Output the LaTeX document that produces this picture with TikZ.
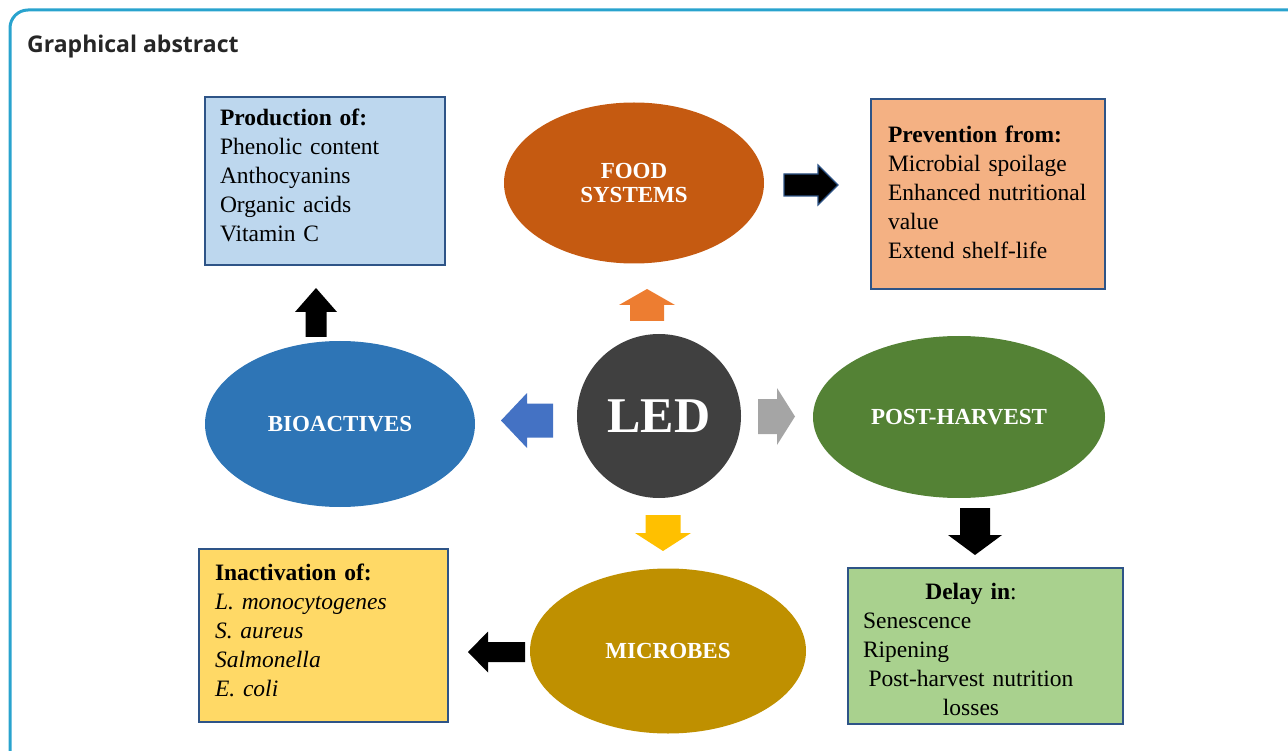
\documentclass[tikz,border=0pt]{standalone}
\usepackage{fontspec}
\setmainfont{Liberation Serif}
\newfontfamily\titlefont{Open Sans}
\usetikzlibrary{shapes.geometric,positioning}

\definecolor{framecol}{HTML}{29A3CE}
\definecolor{boxline}{HTML}{2E5487}
\definecolor{prodfill}{HTML}{BDD7EE}
\definecolor{prevfill}{HTML}{F4B183}
\definecolor{delayfill}{HTML}{A9D18E}
\definecolor{inactfill}{HTML}{FFD966}
\definecolor{foodcol}{HTML}{C55A11}
\definecolor{biocol}{HTML}{2E75B6}
\definecolor{postcol}{HTML}{548235}
\definecolor{microcol}{HTML}{BF9000}
\definecolor{ledcol}{HTML}{404040}
\definecolor{orangearr}{HTML}{ED7D31}
\definecolor{bluearr}{HTML}{4472C4}
\definecolor{grayarr}{HTML}{A5A5A5}
\definecolor{yellowarr}{HTML}{FFC000}

\tikzset{
  % block arrow pointing along local x: {length}{shaft}{head width}{head length}
  pics/blockarrow/.style n args={4}{code={
    \path[pic actions] (0,-#2/2) -- (#1-#4,-#2/2) -- (#1-#4,-#3/2) -- (#1,0)
      -- (#1-#4,#3/2) -- (#1-#4,#2/2) -- (0,#2/2) -- cycle;
  }},
  infobox/.style={draw=boxline, line width=2pt, anchor=north west, inner sep=0pt},
  boxtext/.style={align=left, inner sep=0pt, font=\fontsize{23.5}{29}\selectfont},
  bubble/.style={ellipse, inner sep=0pt, text=white, align=center,
    font=\fontsize{23}{24}\selectfont\bfseries},
}

\begin{document}
\begin{tikzpicture}[x=1pt,y=-1pt]
    \useasboundingbox (0,0) rectangle (1288,751);
    % frame and title
    \draw[framecol, line width=3pt, rounded corners=18pt] (10,751) -- (10,10) -- (1288,10);
    \node[anchor=base west, inner sep=0pt, text=black!85,
      font=\titlefont\bfseries\fontsize{23}{27}\selectfont] (title) at (27,53) {Graphical abstract};

    % centre
    \node[circle, fill=ledcol, minimum size=164, inner sep=0pt, text=white,
      font=\fontsize{50}{50}\selectfont\bfseries] (led) at (659,416) {LED};

    % ellipses
    \node[bubble, fill=foodcol, minimum width=260, minimum height=161] (food) at (634,183) {FOOD\\SYSTEMS};
    \node[bubble, fill=biocol, minimum width=270, minimum height=166] (bio) at (340,424) {BIOACTIVES};
    \node[bubble, fill=postcol, minimum width=292, minimum height=162] (post) at (959,417) {POST-HARVEST};
    \node[bubble, fill=microcol, minimum width=276, minimum height=165] (micro) at (668,651) {MICROBES};

    % boxes
    \node[infobox, fill=prodfill, minimum width=240, minimum height=168] (prod) at (204,96) {};
    \node[boxtext, text width=210, yshift=6pt] (prodtext) at (prod.center)
      {\textbf{Production of:}\\ Phenolic content\\ Anthocyanins\\ Organic acids\\ Vitamin C};
    \node[infobox, fill=prevfill, minimum width=234, minimum height=190] (prev) at (870,98) {};
    \node[boxtext, text width=200, yshift=2pt] (prevtext) at (prev.center)
      {\textbf{Prevention from:}\\ Microbial spoilage\\ Enhanced nutritional\\ value\\ Extend shelf-life};
    \node[infobox, fill=inactfill, minimum width=249, minimum height=173] (inact) at (198,548) {};
    \node[boxtext, text width=217, yshift=5pt] (inacttext) at (inact.center)
      {\textbf{Inactivation of:}\\ \textit{L. monocytogenes}\\ \textit{S. aureus}\\ \textit{Salmonella}\\ \textit{E. coli}};
    \node[infobox, fill=delayfill, minimum width=275, minimum height=156] (delay) at (847,567) {};
    \node[boxtext, text width=245, yshift=-3pt] (delaytext) at (delay.center)
      {\makebox[216pt]{\textbf{Delay in}:}\\ Senescence\\ Ripening\\ \makebox[216pt]{Post-harvest nutrition}\\ \makebox[216pt]{losses}};

    % block arrows
    \pic[fill=orangearr, rotate=90] (ledfood) at (647,321) {blockarrow={32}{34}{56}{16}};
    \pic[fill=bluearr, rotate=180] (ledbio) at (553,420.5) {blockarrow={52}{34}{55}{26}};
    \pic[fill=grayarr] (ledpost) at (758,416.5) {blockarrow={37}{35}{57}{18}};
    \pic[fill=yellowarr, rotate=-90] (ledmicro) at (663,515) {blockarrow={36}{35}{56}{18}};
    \pic[fill=black, draw=boxline, line width=1.2pt] (foodprev) at (784,185) {blockarrow={54}{22}{40}{20}};
    \pic[fill=black, rotate=90] (bioprod) at (316,337) {blockarrow={49}{21}{42}{24}};
    \pic[fill=black, rotate=-90] (postdelay) at (975,508) {blockarrow={47}{30}{54}{20}};
    \pic[fill=black, rotate=180] (microinact) at (525,652) {blockarrow={57}{20}{41}{20}};
\end{tikzpicture}
\end{document}
